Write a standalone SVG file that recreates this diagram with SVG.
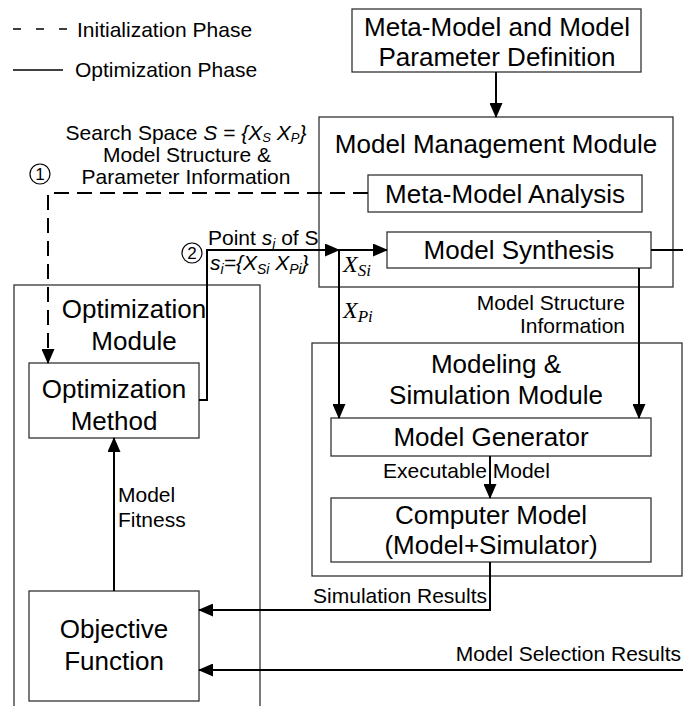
<svg xmlns="http://www.w3.org/2000/svg" width="683" height="706" viewBox="0 0 683 706">
  <style>
    text { font-family: "Liberation Sans", Arial, sans-serif; fill: #000; }
    .big { font-size: 26px; }
    .small { font-size: 21px; }
    .mid { text-anchor: middle; }
    .end { text-anchor: end; }
    .box { fill: #fff; stroke: #333; stroke-width: 1.3; }
    .wire { fill: none; stroke: #000; stroke-width: 2; }
    .dash { stroke-dasharray: 15 8; }
    .math { font-family: "Liberation Serif", "Times New Roman", serif; font-style: italic; font-size: 24px; }
    .it { font-style: italic; }
    .num { font-size: 17px; text-anchor: middle; }
    .circ { fill: none; stroke: #000; stroke-width: 1.2; }
  </style>
  <defs>
    <marker id="arrow" markerUnits="userSpaceOnUse" markerWidth="15" markerHeight="13" refX="14" refY="6.5" orient="auto">
      <path d="M0,0 L15,6.5 L0,13 z" fill="#000"/>
    </marker>
  </defs>

  <!-- legend -->
  <g id="legend">
    <line x1="13" y1="29" x2="67" y2="29" stroke="#000" stroke-width="1.6" stroke-dasharray="8 15"/>
    <text class="small" x="77" y="37">Initialization Phase</text>
    <line x1="13" y1="70" x2="63" y2="70" stroke="#000" stroke-width="1.6"/>
    <text class="small" x="75" y="77">Optimization Phase</text>
  </g>

  <!-- containers -->
  <g id="model-management-module">
    <rect class="box" x="319" y="117" width="354" height="170"/>
    <text class="big mid" x="496" y="153">Model Management Module</text>
  </g>
  <g id="modeling-simulation-module">
    <rect class="box" x="312" y="343" width="370" height="233"/>
    <text class="big mid" x="496" y="373">Modeling &amp;</text>
    <text class="big mid" x="496" y="404">Simulation Module</text>
  </g>
  <g id="optimization-module">
    <rect class="box" x="14" y="285" width="246" height="430"/>
    <text class="big mid" x="134" y="318">Optimization</text>
    <text class="big mid" x="134" y="350">Module</text>
  </g>

  <!-- nodes -->
  <g id="meta-model-definition">
    <rect class="box" x="352" y="9" width="289" height="63"/>
    <text class="big mid" x="497" y="36">Meta-Model and Model</text>
    <text class="big mid" x="497" y="66">Parameter Definition</text>
  </g>
  <g id="meta-model-analysis">
    <rect class="box" x="368" y="175" width="274" height="37"/>
    <text class="big mid" x="505" y="203">Meta-Model Analysis</text>
  </g>
  <g id="model-synthesis">
    <rect class="box" x="387" y="232" width="264" height="36"/>
    <text class="big mid" x="519" y="259">Model Synthesis</text>
  </g>
  <g id="model-generator">
    <rect class="box" x="331" y="418" width="320" height="38"/>
    <text class="big mid" x="491" y="446">Model Generator</text>
  </g>
  <g id="computer-model">
    <rect class="box" x="331" y="498" width="320" height="64"/>
    <text class="big mid" x="491" y="524">Computer Model</text>
    <text class="big mid" x="491" y="554">(Model+Simulator)</text>
  </g>
  <g id="optimization-method">
    <rect class="box" x="29" y="363" width="170" height="75"/>
    <text class="big mid" x="114" y="398">Optimization</text>
    <text class="big mid" x="114" y="430">Method</text>
  </g>
  <g id="objective-function">
    <rect class="box" x="29" y="591" width="170" height="110"/>
    <text class="big mid" x="114" y="638">Objective</text>
    <text class="big mid" x="114" y="670">Function</text>
  </g>

  <!-- connectors -->
  <g id="connectors">
    <line class="wire" x1="496" y1="72" x2="496" y2="117" marker-end="url(#arrow)"/>
    <!-- initialization: search space handed to the optimizer -->
    <polyline class="wire dash" points="368,193 48,193 48,363" marker-end="url(#arrow)"/>
    <!-- optimization: candidate point sent to model synthesis -->
    <polyline class="wire" points="199,400 207,400 207,250 339,250" marker-end="url(#arrow)"/>
    <line class="wire" x1="339" y1="250" x2="387" y2="250" marker-end="url(#arrow)"/>
    <line class="wire" x1="339" y1="250" x2="339" y2="418" marker-end="url(#arrow)"/>
    <line class="wire" x1="639" y1="268" x2="639" y2="418" marker-end="url(#arrow)"/>
    <line class="wire" x1="651" y1="250" x2="683" y2="250"/>
    <line class="wire" x1="490" y1="456" x2="490" y2="498" marker-end="url(#arrow)"/>
    <polyline class="wire" points="490,562 490,610 199,610" marker-end="url(#arrow)"/>
    <line class="wire" x1="683" y1="670" x2="199" y2="670" marker-end="url(#arrow)"/>
    <line class="wire" x1="114" y1="591" x2="114" y2="438" marker-end="url(#arrow)"/>
  </g>

  <!-- connector labels -->
  <g id="labels">
    <text class="small mid" x="186" y="140">Search Space <tspan class="it">S</tspan> = <tspan class="it">{X<tspan font-size="13" dy="2">S</tspan><tspan dy="-2"> X</tspan><tspan font-size="13" dy="2">P</tspan><tspan dy="-2">}</tspan></tspan></text>
    <text class="small mid" x="187" y="162">Model Structure  &amp;</text>
    <text class="small mid" x="186" y="184">Parameter Information</text>
    <circle class="circ" cx="40" cy="174" r="10"/>
    <text class="num" x="40" y="180">1</text>

    <circle class="circ" cx="192" cy="253" r="10"/>
    <text class="num" x="192" y="259">2</text>
    <text class="small" x="208" y="245">Point <tspan class="it">s<tspan font-size="14" dy="4">i</tspan></tspan><tspan dy="-4"> of S</tspan></text>
    <text class="small it" x="210" y="270">s<tspan font-size="14" dy="4">i</tspan><tspan dy="-4">={X</tspan><tspan font-size="14" dy="4">Si</tspan><tspan dy="-4"> X</tspan><tspan font-size="14" dy="4">Pi</tspan><tspan dy="-4">}</tspan></text>

    <text class="math" x="343" y="272">X<tspan font-size="17" dy="4">Si</tspan></text>
    <text class="math" x="343" y="318">X<tspan font-size="17" dy="4">Pi</tspan></text>

    <text class="small end" x="625" y="310">Model Structure</text>
    <text class="small end" x="625" y="333">Information</text>
    <text class="small" x="383" y="478">Executable Model</text>
    <text class="small end" x="487" y="603">Simulation Results</text>
    <text class="small end" x="681" y="661">Model Selection Results</text>
    <text class="small" x="118" y="502">Model</text>
    <text class="small" x="118" y="527">Fitness</text>
  </g>
</svg>
